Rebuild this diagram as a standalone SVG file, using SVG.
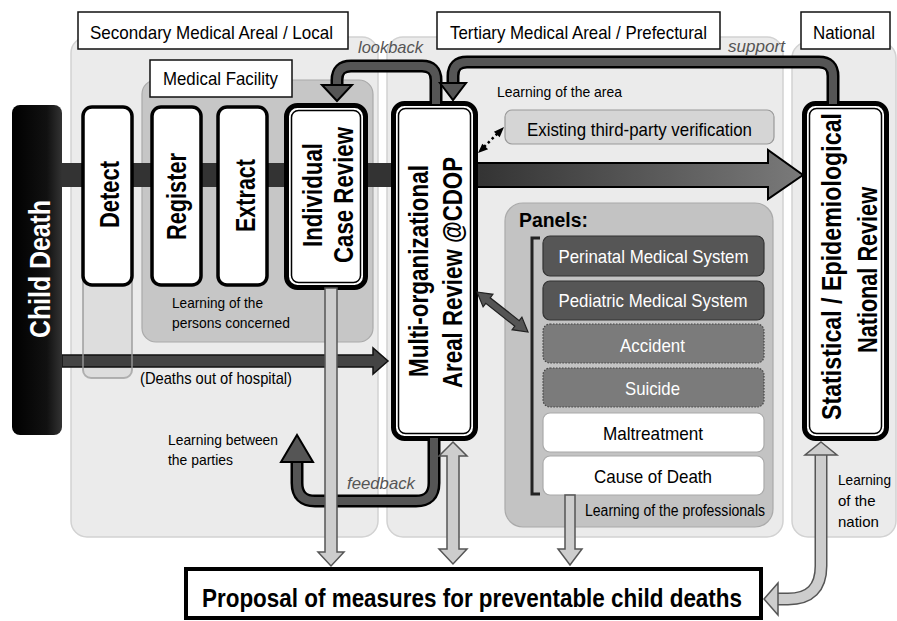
<svg xmlns="http://www.w3.org/2000/svg" width="897" height="621" viewBox="0 0 897 621">
<defs>
<linearGradient id="gCD" x1="0" y1="0" x2="1" y2="0">
<stop offset="0" stop-color="#000"/><stop offset="0.7" stop-color="#111"/><stop offset="1" stop-color="#333"/>
</linearGradient>
<linearGradient id="gBar" x1="0" y1="0" x2="1" y2="0">
<stop offset="0" stop-color="#333"/><stop offset="1" stop-color="#7a7a7a"/>
</linearGradient>
<style>
text{font-family:"Liberation Sans",Arial,Helvetica,sans-serif;fill:#000}
.region{fill:#ebebeb;stroke:#d2d2d2;stroke-width:1.5}
.hdr{fill:#fff;stroke:#111;stroke-width:1.5}
.ht{font-size:19px}
.it{font-size:17px;font-style:italic;fill:#555}
.lt{font-size:15px}
.box{fill:#fff;stroke:#000;stroke-width:3.5}
.dbo{fill:#fff;stroke:#000;stroke-width:5}
.dbi{fill:none;stroke:#000;stroke-width:1.5}
.vt{font-size:28px;font-weight:bold}
.pdark{fill:#565656;stroke:#333;stroke-width:1.2}
.pmid{fill:#7b7b7b;stroke:#444;stroke-width:1.2;stroke-dasharray:1.5 1.5}
.pwhite{fill:#fff;stroke:#aaa;stroke-width:1.2}
.pt{font-size:19px;fill:#fff}
.ptb{font-size:19px;fill:#000}
.darkout{fill:none;stroke:#000;stroke-width:13}
.darkin{fill:none;stroke:#555;stroke-width:8}
.darkhead{fill:#555;stroke:#000;stroke-width:2}
.light{fill:#cdcdcd;stroke:#555;stroke-width:1.5}
.lightout{fill:none;stroke:#555;stroke-width:13}
.lightin{fill:none;stroke:#cdcdcd;stroke-width:10}
</style>
</defs>
<rect width="897" height="621" fill="#fff"/>

<g id="regions">
<rect id="region-secondary" class="region" x="71" y="37" width="307" height="500" rx="16"/>
<rect id="region-tertiary" class="region" x="387" y="37" width="396" height="500" rx="16"/>
<rect id="region-national" class="region" x="792" y="42" width="104" height="495" rx="16"/>
<rect id="medical-facility" x="142" y="80" width="231" height="262" rx="14" fill="#c6c6c6" stroke="#aaa" stroke-width="1.2"/>
<rect id="panels-area" x="505" y="203" width="268" height="324" rx="18" fill="#c3c3c3" stroke="#aaa" stroke-width="1.2"/>
</g>

<g id="headers">
<g id="hdr-secondary"><rect class="hdr" x="78" y="12" width="270" height="37"/><text class="ht" x="90" y="39" textLength="243" lengthAdjust="spacingAndGlyphs">Secondary Medical Areal / Local</text></g>
<g id="hdr-tertiary"><rect class="hdr" x="437" y="12" width="283" height="37"/><text class="ht" x="450" y="39" textLength="257" lengthAdjust="spacingAndGlyphs">Tertiary Medical Areal / Prefectural</text></g>
<g id="hdr-national"><rect class="hdr" x="801" y="12" width="89" height="37"/><text class="ht" x="813" y="39" textLength="62" lengthAdjust="spacingAndGlyphs">National</text></g>
<g id="hdr-facility"><rect class="hdr" x="150" y="60" width="142" height="37"/><text class="ht" x="163" y="85" textLength="115" lengthAdjust="spacingAndGlyphs">Medical Facility</text></g>
</g>

<g id="connectors-back">
<rect x="62" y="163" width="332" height="24" fill="#333"/>
<polygon points="476,163 768,163 768,150 803,175 768,199 768,187 476,187" fill="url(#gBar)" stroke="#000" stroke-width="2"/>
<polygon points="62,355 373,355 373,348 388,361 373,374 373,367 62,367" fill="#444" stroke="#111" stroke-width="1.5"/>
</g>

<rect id="detect-ghost" x="83" y="120" width="49" height="258" rx="8" fill="#000" fill-opacity="0.06" stroke="#999" stroke-opacity="0.7" stroke-width="2"/>

<g id="child-death"><rect x="12" y="105" width="50" height="330" rx="8" fill="url(#gCD)"/><text class="vt" transform="translate(50,269) rotate(-90)" text-anchor="middle" textLength="138" lengthAdjust="spacingAndGlyphs" style="fill:#fff;font-size:30px">Child Death</text></g>

<g id="detect"><rect class="box" x="83" y="107" width="49" height="178" rx="9"/><text class="vt" transform="translate(119,194.5) rotate(-90)" text-anchor="middle" textLength="67" lengthAdjust="spacingAndGlyphs">Detect</text></g>
<g id="register"><rect class="box" x="152" y="107" width="49" height="178" rx="9"/><text class="vt" transform="translate(186,196.5) rotate(-90)" text-anchor="middle" textLength="87" lengthAdjust="spacingAndGlyphs">Register</text></g>
<g id="extract"><rect class="box" x="218" y="107" width="49" height="178" rx="9"/><text class="vt" transform="translate(255,195.5) rotate(-90)" text-anchor="middle" textLength="73" lengthAdjust="spacingAndGlyphs">Extract</text></g>

<g id="individual-case-review">
<rect class="dbo" x="286.5" y="105.5" width="79" height="182" rx="11"/>
<rect class="dbi" x="291.5" y="110.5" width="69" height="172" rx="7"/>
<text class="vt" transform="translate(322,195) rotate(-90)" text-anchor="middle" textLength="104" lengthAdjust="spacingAndGlyphs">Individual</text>
<text class="vt" transform="translate(353,195) rotate(-90)" text-anchor="middle" textLength="136" lengthAdjust="spacingAndGlyphs">Case Review</text>
</g>

<g id="cdop">
<rect class="dbo" x="393.5" y="103.5" width="82" height="335" rx="11"/>
<rect class="dbi" x="398.5" y="108.5" width="72" height="325" rx="7"/>
<text class="vt" transform="translate(428,271) rotate(-90)" text-anchor="middle" textLength="212" lengthAdjust="spacingAndGlyphs">Multi-organizational</text>
<text class="vt" transform="translate(462,272.5) rotate(-90)" text-anchor="middle" textLength="231" lengthAdjust="spacingAndGlyphs">Areal Review @CDOP</text>
</g>

<g id="national-review">
<rect class="dbo" x="804.5" y="103.5" width="82" height="335" rx="11"/>
<rect class="dbi" x="809.5" y="108.5" width="72" height="325" rx="7"/>
<text class="vt" transform="translate(841,266.5) rotate(-90)" text-anchor="middle" textLength="307" lengthAdjust="spacingAndGlyphs">Statistical / Epidemiological</text>
<text class="vt" transform="translate(877,270) rotate(-90)" text-anchor="middle" textLength="166" lengthAdjust="spacingAndGlyphs">National Review</text>
</g>

<g id="existing-verification"><rect x="505" y="110" width="269" height="34" rx="7" fill="#d5d5d5" stroke="#999" stroke-width="1.2"/><text x="527" y="136" style="font-size:19px" textLength="225" lengthAdjust="spacingAndGlyphs">Existing third-party verification</text></g>

<g id="panels">
<text x="519" y="227" style="font-size:20px;font-weight:bold" textLength="69" lengthAdjust="spacingAndGlyphs">Panels:</text>
<path d="M540 238 H532 V494 H540" fill="none" stroke="#222" stroke-width="3"/>
<g id="panel-perinatal"><rect class="pdark" x="543" y="236" width="221" height="40" rx="7"/><text class="pt" x="653.5" y="263" text-anchor="middle" textLength="190" lengthAdjust="spacingAndGlyphs">Perinatal Medical System</text></g>
<g id="panel-pediatric"><rect class="pdark" x="543" y="281" width="221" height="39" rx="7"/><text class="pt" x="653" y="307" text-anchor="middle" textLength="189" lengthAdjust="spacingAndGlyphs">Pediatric Medical System</text></g>
<g id="panel-accident"><rect class="pmid" x="543" y="324" width="221" height="39" rx="7"/><text class="pt" x="652.5" y="352" text-anchor="middle" textLength="65" lengthAdjust="spacingAndGlyphs">Accident</text></g>
<g id="panel-suicide"><rect class="pmid" x="543" y="368" width="221" height="39" rx="7"/><text class="pt" x="652.5" y="395" text-anchor="middle" textLength="55" lengthAdjust="spacingAndGlyphs">Suicide</text></g>
<g id="panel-maltreatment"><rect class="pwhite" x="543" y="413" width="221" height="39" rx="7"/><text class="ptb" x="653" y="440" text-anchor="middle" textLength="100" lengthAdjust="spacingAndGlyphs">Maltreatment</text></g>
<g id="panel-cause"><rect class="pwhite" x="543" y="456" width="221" height="39" rx="7"/><text class="ptb" x="653" y="483" text-anchor="middle" textLength="118" lengthAdjust="spacingAndGlyphs">Cause of Death</text></g>
</g>

<g id="proposal"><rect x="186" y="569" width="575" height="49" fill="#fff" stroke="#000" stroke-width="4"/><text x="472" y="607" text-anchor="middle" style="font-size:26px;font-weight:bold" textLength="540" lengthAdjust="spacingAndGlyphs">Proposal of measures for preventable child deaths</text></g>

<g id="connectors">
<!-- lookback -->
<path class="darkout" d="M436 104 V80 Q436 66 422 66 H351 Q337 66 337 80 V87"/>
<path class="darkin" d="M436 104 V80 Q436 66 422 66 H351 Q337 66 337 80 V88"/>
<polygon class="darkhead" points="322,85 352,85 337,101"/>
<!-- support -->
<path class="darkout" d="M833 104 V76 Q833 62 819 62 H467 Q453 62 453 76 V85"/>
<path class="darkin" d="M833 104 V76 Q833 62 819 62 H467 Q453 62 453 76 V86"/>
<polygon class="darkhead" points="440,83 466,83 453,100"/>
<!-- feedback -->
<path class="darkout" d="M434 438 V483 Q434 501 416 501 H315 Q297 501 297 483 V462"/>
<path class="darkin" d="M434 438 V483 Q434 501 416 501 H315 Q297 501 297 483 V461"/>
<polygon class="darkhead" points="281,462 313,462 297,435"/>
<!-- CDOP to panels -->
<polygon points="477,292 492.9,294.3 490.2,297.8 519.2,320.6 521.9,317.1 528,332 512.1,329.7 514.8,326.2 485.8,303.4 483.1,306.9" fill="#555" stroke="#222" stroke-width="1.2"/>
<!-- CDOP to existing verification (dotted) -->
<line x1="484" y1="147" x2="498" y2="133" stroke="#000" stroke-width="2.5" stroke-dasharray="2.5 3"/>
<polygon points="504,127 499.7,137.3 493.9,131.7" fill="#000"/>
<polygon points="478,153 488.1,149.3 482.3,143.7" fill="#000"/>
<!-- light arrows to proposal -->
<polygon class="light" points="325,288 337,288 337,552 344,552 331,566 318,552 325,552"/>
<polygon class="light" points="453,442 467,456 459,456 459,549 467,549 453,564 439,549 447,549 447,456 439,456"/>
<polygon class="light" points="565,495 575,495 575,549 582,549 570,565 558,549 565,549"/>
<path class="lightout" d="M821 453 V566 Q821 599 788 599 H777"/>
<path class="lightin" d="M821 452 V566 Q821 599 788 599 H776"/>
<polygon class="light" points="821,442 837,455 805,455"/>
<polygon class="light" points="764,599 778,583 778,615"/>
</g>

<g id="labels">
<text class="it" x="358" y="53" textLength="65" lengthAdjust="spacingAndGlyphs">lookback</text>
<text class="it" x="728" y="52" textLength="57" lengthAdjust="spacingAndGlyphs">support</text>
<text class="it" x="347" y="489" textLength="68" lengthAdjust="spacingAndGlyphs">feedback</text>
<text class="lt" x="497" y="97" textLength="125" lengthAdjust="spacingAndGlyphs">Learning of the area</text>
<text class="lt" x="172" y="308" textLength="91" lengthAdjust="spacingAndGlyphs">Learning of the</text>
<text class="lt" x="172" y="328" textLength="118" lengthAdjust="spacingAndGlyphs">persons concerned</text>
<text x="140" y="384" style="font-size:17px" textLength="152" lengthAdjust="spacingAndGlyphs">(Deaths out of hospital)</text>
<text class="lt" x="168" y="445" textLength="110" lengthAdjust="spacingAndGlyphs">Learning between</text>
<text class="lt" x="168" y="465" textLength="65" lengthAdjust="spacingAndGlyphs">the parties</text>
<text class="lt" x="585" y="516" style="font-size:16px" textLength="180" lengthAdjust="spacingAndGlyphs">Learning of the professionals</text>
<text class="lt" x="838" y="485" textLength="53" lengthAdjust="spacingAndGlyphs">Learning</text>
<text class="lt" x="838" y="506">of the</text>
<text class="lt" x="838" y="527">nation</text>
</g>
</svg>
